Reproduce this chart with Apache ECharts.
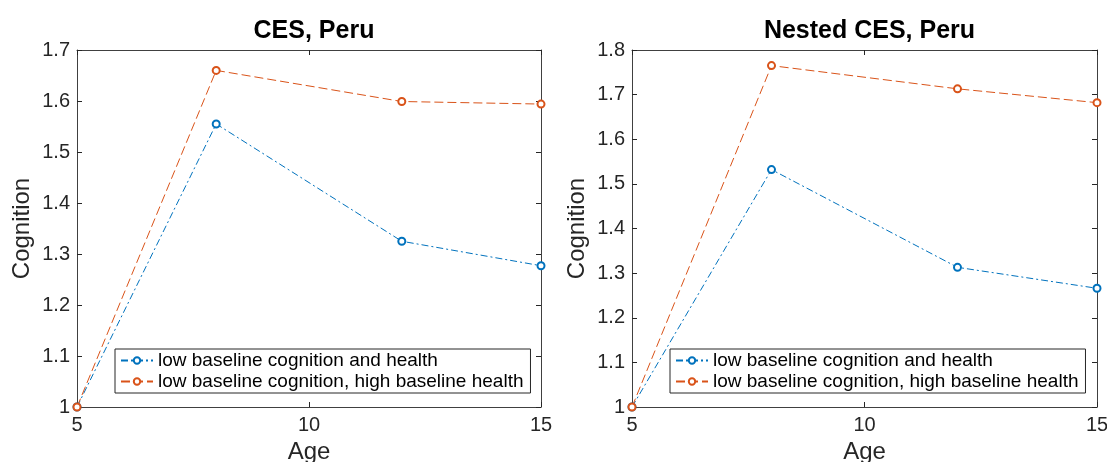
<!DOCTYPE html>
<html><head><meta charset="utf-8">
<script src="https://cdn.jsdelivr.net/npm/echarts@6/dist/echarts.min.js"></script>
<style>html,body{margin:0;padding:0;background:#fff}#c{width:1107px;height:462px}</style>
</head><body><div id="c"></div>
<script>
const ages = [5, 8, 12, 15];
const titles = ['CES, Peru', 'Nested CES, Peru'];
const seriesNames = ['low baseline cognition and health', 'low baseline cognition, high baseline health'];
const cesLow = [1, 1.555, 1.325, 1.277];
const cesHigh = [1, 1.660, 1.599, 1.594];
const nestedLow = [1, 1.532, 1.313, 1.266];
const nestedHigh = [1, 1.765, 1.713, 1.682];
const yMax = [1.7, 1.8];
const xTicks = [5, 10, 15];

const FONT = '"Liberation Sans", Arial, sans-serif';
const AX = '#262626';
const blue = '#0072BD', red = '#D95319';
const grids = [
  {left: 77, top: 50, width: 464, height: 357, containLabel: false, outerBoundsMode: 'none'},
  {left: 632, top: 50, width: 465, height: 357, containLabel: false, outerBoundsMode: 'none'}
];
const xAxes = [], yAxes = [], series = [], titleArr = [], legends = [];
const dataSets = [[cesLow, cesHigh], [nestedLow, nestedHigh]];
grids.forEach((g, i) => {
  const axisLine = {show: true, lineStyle: {color: '#404040', width: 1}};
  const tick = {show: true, inside: true, length: 5, lineStyle: {color: AX}};
  xAxes.push({type: 'value', gridIndex: i, min: 5, max: 15, interval: 5, position: 'bottom',
    axisLine, axisTick: tick, splitLine: {show: false},
    axisLabel: {color: AX, fontFamily: FONT, fontSize: 20, margin: 8},
    name: 'Age', nameLocation: 'middle', nameGap: 31,
    nameTextStyle: {color: AX, fontFamily: FONT, fontSize: 24}});
  xAxes.push({type: 'value', gridIndex: i, min: 5, max: 15, interval: 5, position: 'top',
    axisLine, axisTick: tick, axisLabel: {show: false}, splitLine: {show: false}});
  yAxes.push({type: 'value', gridIndex: i, min: 1, max: yMax[i], interval: 0.1, position: 'left',
    axisLine, axisTick: tick, splitLine: {show: false},
    axisLabel: {color: AX, fontFamily: FONT, fontSize: 20, margin: 7,
      formatter: v => String(Math.round(v * 10) / 10)},
    name: 'Cognition', nameLocation: 'middle', nameGap: 43, nameRotate: 90,
    nameTextStyle: {color: AX, fontFamily: FONT, fontSize: 24}});
  yAxes.push({type: 'value', gridIndex: i, min: 1, max: yMax[i], interval: 0.1, position: 'right',
    axisLine, axisTick: tick, axisLabel: {show: false}, splitLine: {show: false}});
  titleArr.push({text: titles[i], left: g.left + g.width / 2, top: 14, textAlign: 'center',
    textStyle: {fontFamily: FONT, fontSize: 25, fontWeight: 'bold', color: '#000'}});
  const styles = [
    {color: blue, type: [7, 3, 2, 3]},
    {color: red, type: [9, 4]}
  ];
  dataSets[i].forEach((vals, k) => {
    series.push({
      name: seriesNames[k], type: 'line', xAxisIndex: i * 2, yAxisIndex: i * 2,
      data: ages.map((a, j) => [a, vals[j]]),
      symbol: 'emptyCircle', symbolSize: 7, showSymbol: true,
      lineStyle: {color: styles[k].color, width: 1, type: styles[k].type},
      itemStyle: {color: styles[k].color, borderWidth: 1},
      animation: false
    });
  });
  legends.push({
    orient: 'vertical', left: g.left + 38, top: 349,
    data: seriesNames, itemWidth: 32, itemHeight: 8, itemGap: 2,
    padding: [2, 7, 2, 5], borderColor: AX, borderWidth: 1, backgroundColor: '#fff',
    textStyle: {fontFamily: FONT, fontSize: 19, color: '#000'},
    selectedMode: false
  });
});
const chart = echarts.init(document.getElementById('c'));
chart.setOption({
  animation: false,
  title: titleArr,
  grid: grids,
  xAxis: xAxes,
  yAxis: yAxes,
  legend: legends,
  series
});
</script></body></html>
